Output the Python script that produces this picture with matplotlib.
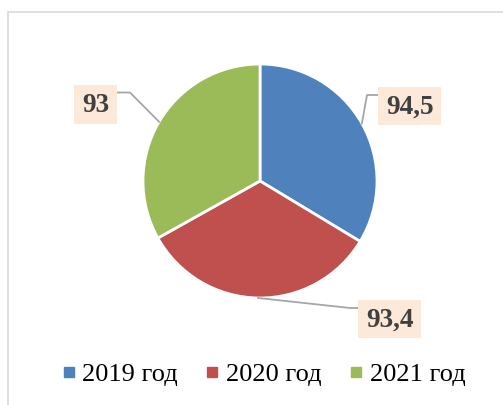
import numpy as np
import matplotlib
matplotlib.use("Agg")
import matplotlib.pyplot as plt
from matplotlib.patches import Rectangle
from matplotlib.lines import Line2D

years = ["2019 год", "2020 год", "2021 год"]
values = [94.5, 93.4, 93.0]
value_labels = ["94,5", "93,4", "93"]
colors = ["#4F81BD", "#C0504D", "#9BBB59"]

W, H = 503, 405
fig = plt.figure(figsize=(W / 100, H / 100), dpi=100)
ax = fig.add_axes([0, 0, 1, 1])
ax.set_xlim(0, W); ax.set_ylim(0, H); ax.set_aspect("equal"); ax.axis("off")

# chart area frame (cut off at right/bottom like the source)
ax.add_patch(Rectangle((8, -30), 600, H - 12 + 30, fill=False, ec="#D9D9D9", lw=1.2))

cx, cy, r = 260, H - 181, 117
wedges, _ = ax.pie(values, colors=colors, startangle=90, counterclock=False,
                   center=(cx, cy), radius=r,
                   wedgeprops=dict(edgecolor="white", linewidth=2))
ax.set_xlim(0, W); ax.set_ylim(0, H)

# label boxes: (centre x, centre y in px from top, width, height, elbow x)
boxes = [(410, 106, 63, 38, 367), (390, 319, 63, 38, 350), (96, 104, 43, 39, 130)]
for w, lab, (bx, by, bw, bh, ex) in zip(wedges, value_labels, boxes):
    ang = np.deg2rad((w.theta1 + w.theta2) / 2)
    px, py = cx + r * np.cos(ang), cy + r * np.sin(ang)
    byu = H - by
    ly = byu + bh / 2 - 8
    side = bx - bw / 2 if bx > cx else bx + bw / 2
    ax.plot([px, ex, side], [py, ly, ly], color="#A6A6A6", lw=1.3, zorder=3)
    ax.add_patch(Rectangle((bx - bw / 2, byu - bh / 2), bw, bh, fc="#FDE9D9", ec="none", zorder=4))
    ax.text(bx, byu - 1, lab, ha="center", va="center", fontsize=19.5, fontweight="bold",
            family="Liberation Serif", color="#404040", zorder=5)

handles = [Line2D([], [], ls="none", marker="s", ms=6.5, color=c) for c in colors]
fig.legend(handles, years, loc="center", bbox_to_anchor=(263 / W, 1 - 374 / H), ncol=3,
           frameon=False, prop=dict(family="Liberation Serif", size=19),
           handlelength=0.6, handletextpad=0.22, columnspacing=1.0)

fig.savefig("out.png", dpi=100)
